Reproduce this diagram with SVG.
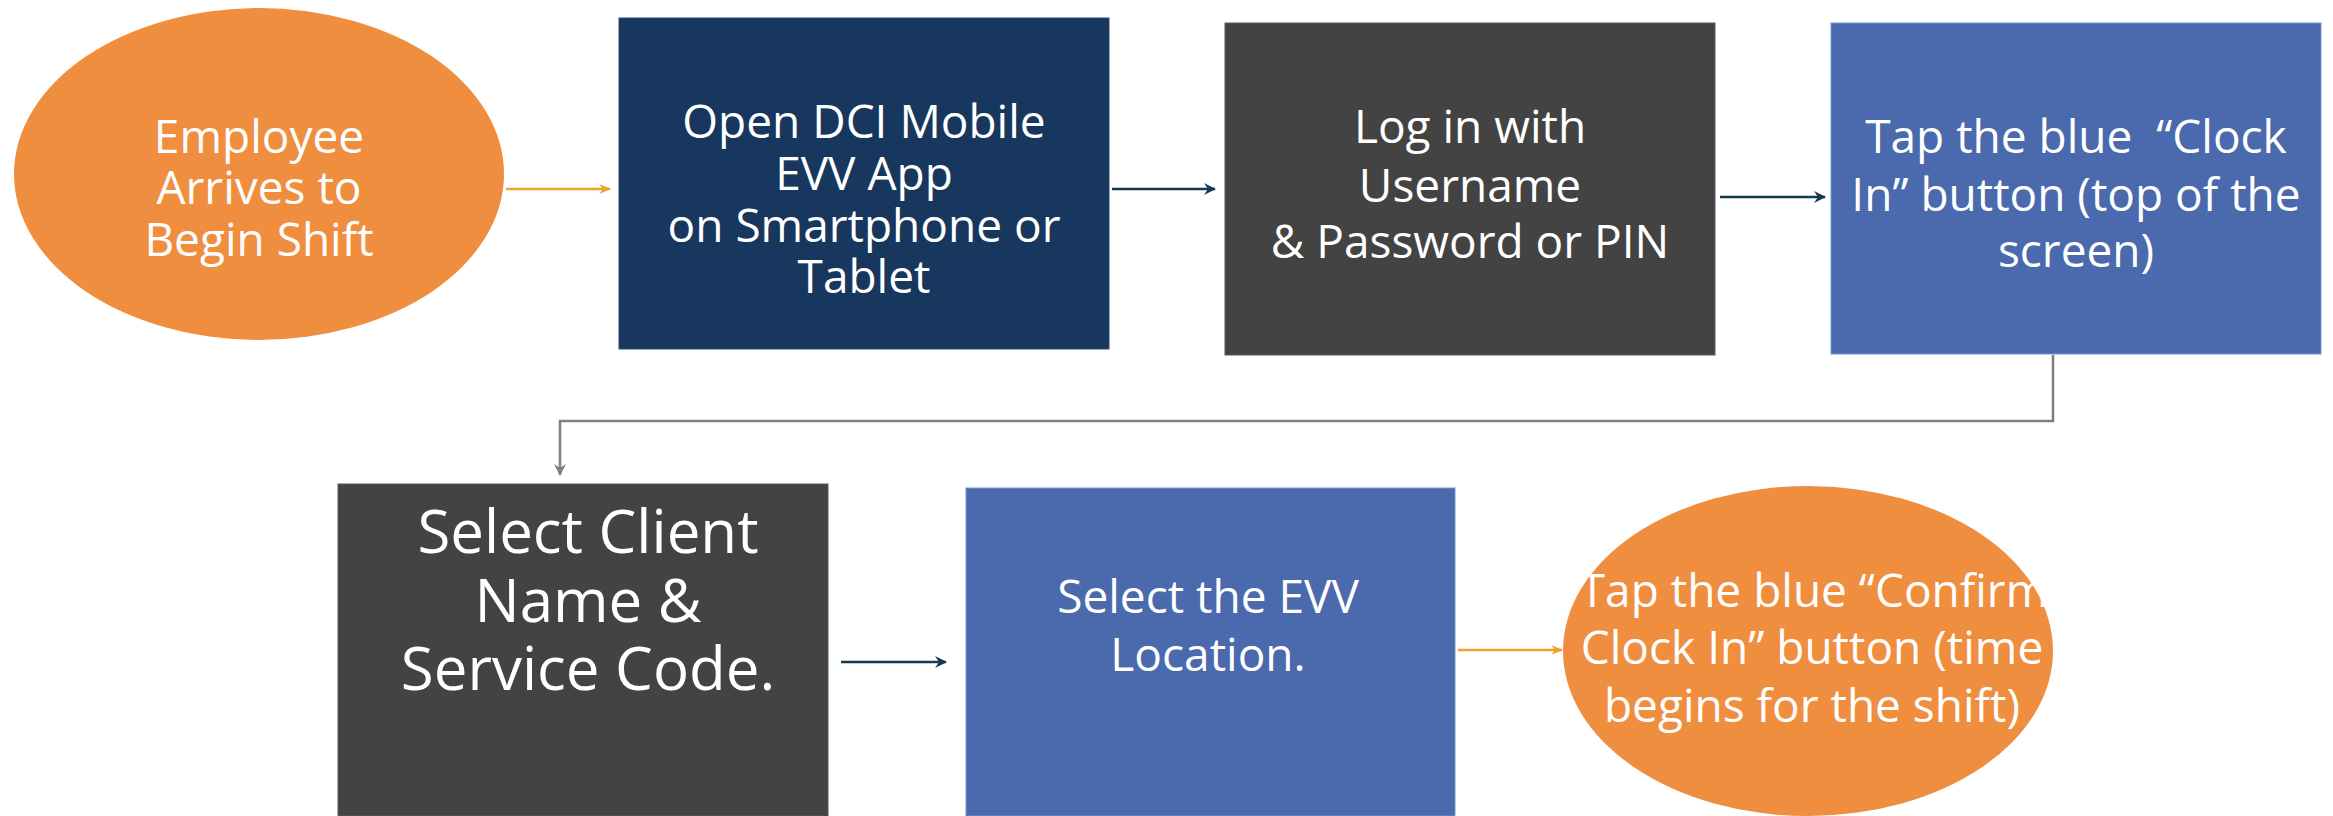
<svg xmlns="http://www.w3.org/2000/svg" width="2333" height="816" viewBox="0 0 2333 816">
<style>
.t{font-family:"Open Sans","Noto Sans","Liberation Sans",sans-serif;fill:#fff;text-anchor:middle;font-size:46px}
.big{font-size:60px}
.orange{fill:#F08E3F}
.navy{fill:#17375E;stroke:#2a4a72;stroke-width:1}
.gray{fill:#434343;stroke:#5a5a5a;stroke-width:1}
.blue{fill:#4A6AAD;stroke:#7d95c8;stroke-width:1}
.ca{stroke:#F0A22E;stroke-width:2.5;fill:none}
.cn{stroke:#163a52;stroke-width:2.5;fill:none}
.cg{stroke:#7F7F7F;stroke-width:2.5;fill:none}
</style>
<defs>
<marker id="mo" markerWidth="12" markerHeight="10" refX="11" refY="5" orient="auto" markerUnits="userSpaceOnUse"><path d="M0,0 L12,5 L0,10 L4,5 z" fill="#F0A22E"/></marker>
<marker id="mn" markerWidth="12" markerHeight="12" refX="11" refY="6" orient="auto" markerUnits="userSpaceOnUse"><path d="M0,0 L12,6 L0,12 L4,6 z" fill="#163a52"/></marker>
<marker id="mg" markerWidth="12" markerHeight="12" refX="11" refY="6" orient="auto" markerUnits="userSpaceOnUse"><path d="M0,0 L12,6 L0,12 L4,6 z" fill="#7F7F7F"/></marker>
<clipPath id="clipE2"><ellipse cx="1808" cy="651" rx="245" ry="165"/></clipPath>
</defs>
<rect width="2333" height="816" fill="#fff"/>
<g id="connectors">
<path class="ca" d="M506,189 H610" marker-end="url(#mo)"/>
<path class="cn" d="M1112,189 H1215" marker-end="url(#mn)"/>
<path class="cn" d="M1720,197 H1825" marker-end="url(#mn)"/>
<path class="cg" d="M2053,355 V421 H560 V475" marker-end="url(#mg)"/>
<path class="cn" d="M841,662 H946" marker-end="url(#mn)"/>
<path class="ca" d="M1458,650 H1562" marker-end="url(#mo)"/>
</g>
<g id="n1">
<ellipse class="orange" cx="259" cy="174" rx="245" ry="166"/>
<text class="t" x="259"><tspan x="259" y="153">Employee</tspan><tspan x="259" y="204">Arrives to</tspan><tspan x="259" y="256">Begin Shift</tspan></text>
</g>
<g id="n2">
<rect class="navy" x="619" y="18" width="490" height="331"/>
<text class="t"><tspan x="864" y="138">Open DCI Mobile</tspan><tspan x="864" y="190">EVV App</tspan><tspan x="864" y="242">on Smartphone or</tspan><tspan x="864" y="293">Tablet</tspan></text>
</g>
<g id="n3">
<rect class="gray" x="1225" y="23" width="490" height="332"/>
<text class="t"><tspan x="1470" y="143">Log in with</tspan><tspan x="1470" y="202">Username</tspan><tspan x="1470" y="258">&amp; Password or PIN</tspan></text>
</g>
<g id="n4">
<rect class="blue" x="1831" y="23" width="490" height="331"/>
<text class="t" xml:space="preserve"><tspan x="2076" y="153">Tap the blue  “Clock</tspan><tspan x="2076" y="211">In” button (top of the</tspan><tspan x="2076" y="267">screen)</tspan></text>
</g>
<g id="n5">
<rect class="gray" x="338" y="484" width="490" height="332"/>
<text class="t big"><tspan x="588" y="553">Select Client</tspan><tspan x="588" y="622">Name &amp;</tspan><tspan x="588" y="690">Service Code.</tspan></text>
</g>
<g id="n6">
<rect class="blue" x="966" y="488" width="489" height="328"/>
<text class="t"><tspan x="1208" y="613">Select the EVV</tspan><tspan x="1208" y="671">Location.</tspan></text>
</g>
<g id="n7">
<ellipse class="orange" cx="1808" cy="651" rx="245" ry="165"/>
<text class="t" clip-path="url(#clipE2)"><tspan x="1814" y="607">Tap the blue “Confirm</tspan><tspan x="1812" y="664">Clock In” button (time</tspan><tspan x="1812" y="722">begins for the shift)</tspan></text>
</g>
</svg>
